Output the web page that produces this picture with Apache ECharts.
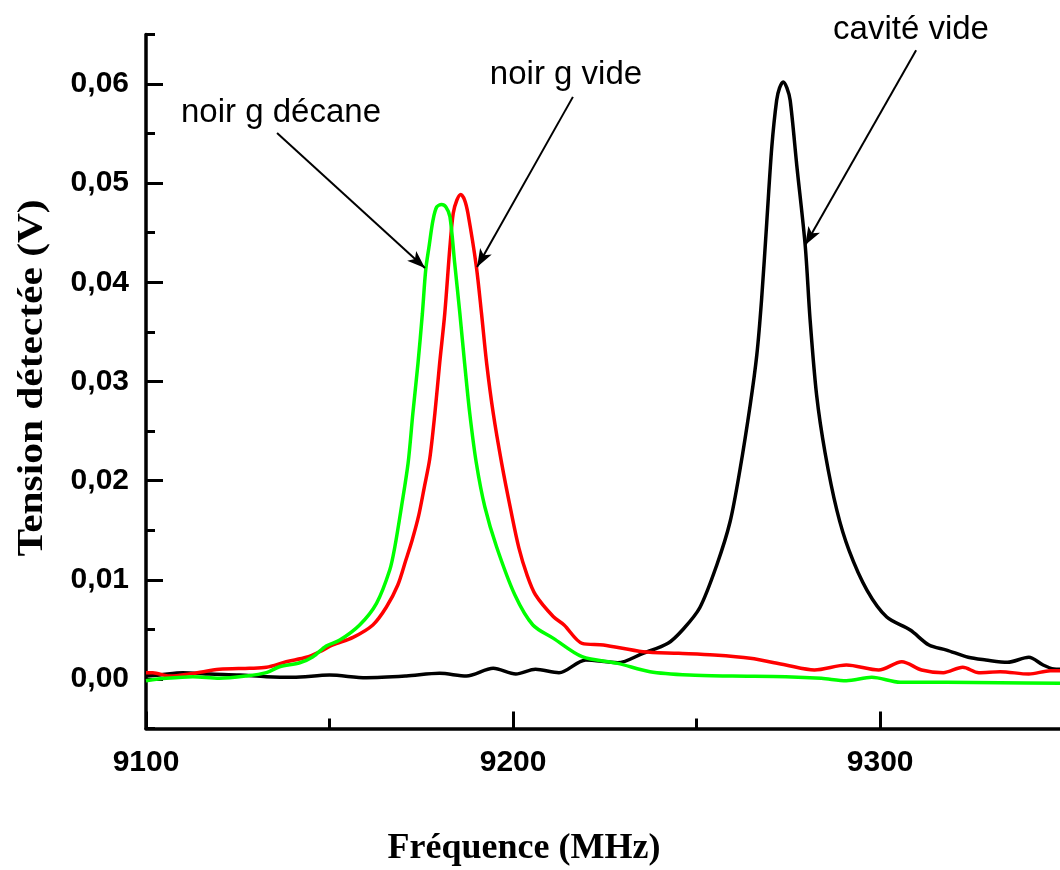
<!DOCTYPE html>
<html>
<head>
<meta charset="utf-8">
<script src="https://cdn.jsdelivr.net/npm/echarts@6/dist/echarts.min.js"></script>
<style>
html,body{margin:0;padding:0;background:#fff;}
#chart{width:1060px;height:870px;}
</style>
</head>
<body>
<div id="chart"></div>
<script>
// ---- Data (frequency MHz, voltage V) ----
const cavityFreq = [9100,9103.7,9110.0,9117.3,9125.5,9132.8,9140.0,9150.0,9160.0,9170.9,9180.0,9187.3,9194.6,9200.75,9206.1,9212.5,9219.8,9228.5,9235.4,9242.2,9246.4,9250.9,9255.5,9259.1,9261.8,9264.6,9266.4,9267.7,9269.1,9270.5,9271.8,9272.6,9273.6,9274.6,9275.5,9277.3,9279.6,9280.9,9282.7,9285.0,9288.2,9291.5,9296.4,9301.8,9308.2,9313.3,9318.1,9324.0,9328.8,9334.7,9340.5,9344.4,9347.3,9349.1];
const cavityVolt = [0.0003,0.0004,0.00064,0.0005,0.0004,0.00023,0.00017,0.0004,0.00013,0.0003,0.00057,0.0003,0.00108,0.0005,0.00098,0.00064,0.00192,0.00164,0.00259,0.0036,0.00504,0.00721,0.0115,0.01583,0.02108,0.02763,0.03267,0.03826,0.04598,0.0537,0.05833,0.0596,0.0602,0.0596,0.05833,0.05176,0.04366,0.03632,0.02861,0.02282,0.01703,0.0130,0.00897,0.00625,0.00494,0.00343,0.00292,0.00219,0.00192,0.00168,0.00219,0.00141,0.00101,0.00098];

const videFreq = [9100,9101.85,9106.4,9112.8,9120.0,9128.2,9132.8,9138.2,9143.7,9147.3,9150.9,9156.4,9161.8,9165.5,9168.6,9170.8,9172.5,9174.3,9175.8,9177.3,9178.7,9180.0,9181.4,9182.8,9183.7,9184.7,9185.75,9186.8,9187.7,9190.0,9191.4,9192.8,9194.6,9196.9,9199.4,9201.6,9203.8,9206.1,9211.0,9213.9,9218.8,9224.6,9235.4,9245.1,9254.8,9264.6,9274.3,9282.1,9290.8,9299.6,9305.9,9311.3,9317.2,9322.5,9326.9,9332.7,9340.5,9346.4,9349.1];
const videVolt = [0.00064,0.00064,0.0003,0.00057,0.00098,0.00108,0.00118,0.00174,0.00219,0.00275,0.00343,0.0042,0.00545,0.00726,0.00948,0.012,0.0140,0.0165,0.0193,0.0222,0.02679,0.03184,0.03688,0.04359,0.04696,0.0483,0.04886,0.0483,0.04696,0.04158,0.03688,0.03184,0.02679,0.02175,0.0170,0.0132,0.0105,0.0085,0.00628,0.00545,0.0036,0.00343,0.00275,0.00259,0.00242,0.00209,0.00141,0.00091,0.00141,0.00091,0.00174,0.00091,0.00064,0.00118,0.00064,0.00074,0.0005,0.00084,0.00084];

const decaneFreq = [9100,9105.5,9112.8,9120.0,9127.3,9132.8,9136.4,9141.9,9145.5,9149.1,9152.8,9158.2,9162.8,9166.4,9167.8,9169.6,9171.4,9172.7,9174.1,9175.3,9176.2,9177.1,9178.2,9179.2,9180.5,9181.7,9182.8,9184.1,9185.5,9186.8,9188.2,9190.0,9192.3,9195.5,9200.5,9205.4,9211.0,9218.8,9228.5,9237.3,9248.0,9259.7,9274.3,9284.0,9290.8,9297.7,9305.5,9318.1,9332.7,9349.1];
const decaneVolt = [-0.00017,0.00007,0.00023,0.00007,0.0003,0.00064,0.00124,0.00164,0.00225,0.00333,0.00393,0.00545,0.00763,0.01099,0.01334,0.01737,0.02175,0.02679,0.03184,0.03688,0.04124,0.04359,0.04629,0.0476,0.04785,0.0476,0.04662,0.04192,0.03688,0.03184,0.02679,0.02175,0.01737,0.01334,0.00847,0.00545,0.0041,0.00225,0.00158,0.00074,0.0004,0.0003,0.00023,0.00007,-0.00017,0.00017,-0.00033,-0.00033,-0.00037,-0.00043];

const xTickLabels = [9100, 9200, 9300];
const yTickLabels = ['0,00','0,01','0,02','0,03','0,04','0,05','0,06'];

const annotationTexts = ['cavité vide', 'noir g vide', 'noir g décane'];
// arrow start/end in data coordinates [freq, volt]
const arrowStarts = [[9309.8, 0.0634], [9216.3, 0.0587], [9135.7, 0.05506]];
const arrowEnds   = [[9279.6, 0.04376], [9190.2, 0.04155], [9176.0, 0.04144]];

const xTitle = 'Fréquence (MHz)';
const yTitle = 'Tension détectée (V)';

function zip(a, b) { return a.map((v, i) => [v, b[i]]); }

const SANS = "Arial, 'Liberation Sans', sans-serif";
const SERIF = "'Times New Roman', 'Liberation Serif', serif";

const chart = echarts.init(document.getElementById('chart'), null, {renderer: 'canvas'});

const X0 = 146, XMAX = 9349, PX = (1060 - X0) / (XMAX - 9100);
const lineCommon = {type: 'line', xAxisIndex: 0, yAxisIndex: 0, showSymbol: false, smooth: 0.3, silent: true};
const option = {
  animation: false,
  backgroundColor: '#fff',
  grid: [
    {left: X0, top: 34.4, width: 1060 - X0, height: 694.2, containLabel: false},
    {left: X0, top: 84, width: 100, height: 595, containLabel: false},
    {left: X0, top: 600, width: 200 * PX, height: 128.6, containLabel: false}
  ],
  xAxis: [
    {
      gridIndex: 0, type: 'value', min: 9100, max: XMAX,
      axisLine: {show: true, onZero: false, lineStyle: {color: '#000', width: 3.5}},
      axisTick: {show: false},
      axisLabel: {show: false}, splitLine: {show: false}
    },
    {gridIndex: 1, type: 'value', min: 0, max: 1, show: false},
    {
      gridIndex: 2, type: 'value', min: 9100, max: 9300, interval: 100,
      axisLine: {show: false, onZero: false},
      axisTick: {show: true, inside: true, length: 17, lineStyle: {color: '#000', width: 3}},
      minorTick: {show: true, splitNumber: 2, length: 10, lineStyle: {color: '#000', width: 3}},
      axisLabel: {
        show: true, margin: 19, color: '#000', fontSize: 30, fontWeight: 'bold', fontFamily: SANS,
        formatter: v => (xTickLabels.indexOf(v) >= 0 ? String(v) : '')
      },
      splitLine: {show: false}, minorSplitLine: {show: false}
    }
  ],
  yAxis: [
    {
      gridIndex: 0, type: 'value', min: -0.005, max: 0.065, interval: 0.005,
      axisLine: {show: true, onZero: false, lineStyle: {color: '#000', width: 3.5}},
      axisTick: {show: true, inside: true, length: 9, lineStyle: {color: '#000', width: 3}},
      axisLabel: {show: false}, splitLine: {show: false}
    },
    {
      gridIndex: 1, type: 'value', min: 0, max: 0.06, interval: 0.01,
      axisLine: {show: false, onZero: false},
      axisTick: {show: true, inside: true, length: 17, lineStyle: {color: '#000', width: 3}},
      axisLabel: {
        show: true, margin: 17, color: '#000', fontSize: 30, fontWeight: 'bold', fontFamily: SANS,
        formatter: (v) => yTickLabels[Math.round(v * 100)] || ''
      },
      splitLine: {show: false}
    },
    {gridIndex: 2, type: 'value', min: 0, max: 1, show: false}
  ],
  series: [
    Object.assign({}, lineCommon, {
      name: 'cavité vide', data: zip(cavityFreq, cavityVolt),
      lineStyle: {color: '#000', width: 3.5},
      markLine: {
        silent: true, animation: false,
        lineStyle: {color: '#000', width: 2, type: 'solid'},
        label: {show: false},
        symbolSize: [10, 18],
        data: arrowStarts.map((s, i) => [
          {coord: s, symbol: 'none'},
          {coord: arrowEnds[i], symbol: 'arrow'}
        ])
      }
    }),
    Object.assign({}, lineCommon, {
      name: 'noir g vide', data: zip(videFreq, videVolt),
      lineStyle: {color: '#ff0000', width: 3.5}
    }),
    Object.assign({}, lineCommon, {
      name: 'noir g décane', data: zip(decaneFreq, decaneVolt),
      lineStyle: {color: '#00ff00', width: 3.5}
    })
  ],
  graphic: [
    {type: 'text', x: 911, y: 30, style: {text: annotationTexts[0], font: '33px ' + SANS, fill: '#000', textAlign: 'center', textVerticalAlign: 'middle'}},
    {type: 'text', x: 566, y: 75, style: {text: annotationTexts[1], font: '33px ' + SANS, fill: '#000', textAlign: 'center', textVerticalAlign: 'middle'}},
    {type: 'text', x: 281, y: 113, style: {text: annotationTexts[2], font: '33px ' + SANS, fill: '#000', textAlign: 'center', textVerticalAlign: 'middle'}},
    {type: 'text', x: 524, y: 849, style: {text: xTitle, font: 'bold 36px ' + SERIF, fill: '#000', textAlign: 'center', textVerticalAlign: 'middle'}},
    {type: 'text', x: 33, y: 378, rotation: Math.PI / 2, scaleX: 1.15, style: {text: yTitle, font: 'bold 36px ' + SERIF, fill: '#000', textAlign: 'center', textVerticalAlign: 'middle'}}
  ]
};
chart.setOption(option);
</script>
</body>
</html>
